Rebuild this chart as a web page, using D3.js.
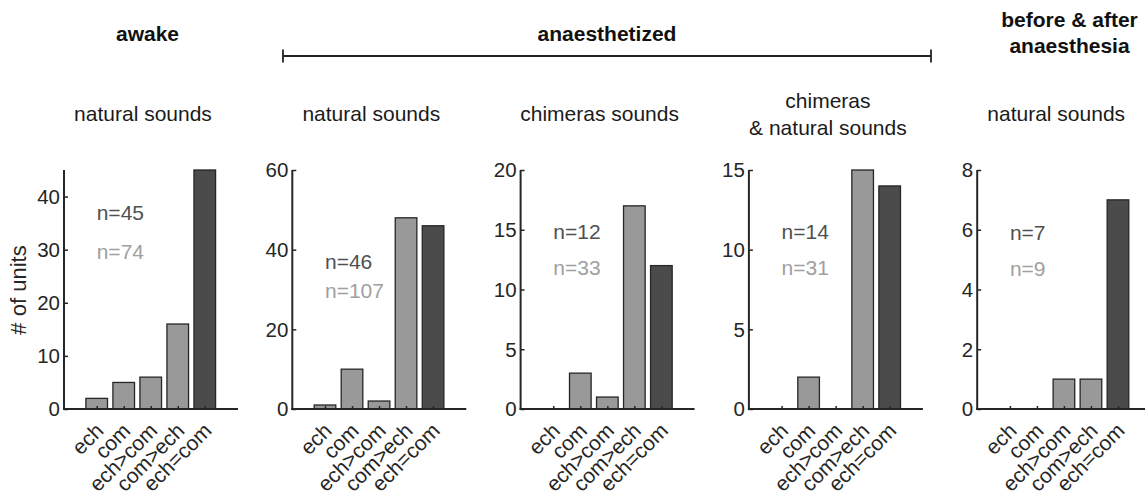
<!DOCTYPE html>
<html>
<head>
<meta charset="utf-8">
<script src="https://cdn.jsdelivr.net/npm/d3@7"></script>
<style>
  body { margin: 0; background: #fff; }
  svg { display: block; font-family: "Liberation Sans", Arial, sans-serif; }
</style>
</head>
<body>
<div id="chart"></div>
<script>
// categories on the x axis (same for every panel)
const categories = ["ech", "com", "ech>com", "com>ech", "ech=com"];

// # of units per category, one array per panel
const awakeNatural = [2, 5, 6, 16, 45];
const anaesthNatural = [1, 10, 2, 48, 46];
const anaesthChimeras = [0, 3, 1, 17, 12];
const anaesthChimNatural = [0, 2, 0, 15, 14];
const beforeAfterNatural = [0, 0, 1, 1, 7];

// y axis limits and ticks per panel
const yMax = [45, 60, 20, 15, 8];
const yTicks = [[0, 10, 20, 30, 40], [0, 20, 40, 60], [0, 5, 10, 15, 20], [0, 5, 10, 15], [0, 2, 4, 6, 8]];

// panel subtitles and sample sizes
const subtitles = [["natural sounds"], ["natural sounds"], ["chimeras sounds"], ["chimeras", "& natural sounds"], ["natural sounds"]];
const nDark = ["n=45", "n=46", "n=12", "n=14", "n=7"];
const nLight = ["n=74", "n=107", "n=33", "n=31", "n=9"];
// where the n= labels sit, in data units of each panel
const nDarkY = [37, 37, 14.8, 11.1, 5.9];
const nLightY = [29.7, 29.6, 11.8, 8.85, 4.7];

const panels = [awakeNatural, anaesthNatural, anaesthChimeras, anaesthChimNatural, beforeAfterNatural];

// -------------------

const width = 1145, height = 495;
const axisW = 174, plotTop = 170, base = 409;
const panelStep = 228.3, firstLeft = 64;
const ink = "#262626";
const lightFill = "#999999", darkFill = "#4b4b4b";

const svg = d3.select("#chart").append("svg")
  .attr("width", width)
  .attr("height", height);

const y0 = d3.scaleLinear().range([base, plotTop]);

panels.forEach((vals, p) => {
  const left = firstLeft + p * panelStep;
  const x = d3.scaleLinear().domain([-0.21, 6.23]).range([left, left + axisW]);
  const y = y0.copy().domain([0, yMax[p]]);
  const g = svg.append("g");

  // bars
  g.selectAll("rect")
    .data(vals.map((v, i) => ({ v, i })).filter(d => d.v > 0))
    .join("rect")
    .attr("x", d => x(d.i + 1) - x(0.4) + x(0))
    .attr("width", x(0.8) - x(0))
    .attr("y", d => y(d.v))
    .attr("height", d => y(0) - y(d.v))
    .attr("fill", d => d.i === 4 ? darkFill : lightFill)
    .attr("stroke", ink)
    .attr("stroke-width", 1.3);

  // y axis
  const ya = g.append("g").attr("transform", `translate(${left},0)`)
    .call(d3.axisRight(y).tickValues(yTicks[p]).tickSize(4).tickFormat(""));
  ya.select(".domain").remove();
  ya.selectAll("line").attr("stroke", ink).attr("stroke-width", 1.5);
  g.append("line")
    .attr("x1", left).attr("x2", left)
    .attr("y1", y(yMax[p])).attr("y2", base + 1)
    .attr("stroke", ink).attr("stroke-width", 2);
  g.selectAll(".ytl")
    .data(yTicks[p])
    .join("text")
    .attr("class", "ytl")
    .attr("x", left - 4)
    .attr("y", d => y(d))
    .attr("dy", "0.36em")
    .attr("text-anchor", "end")
    .attr("font-size", 20.5)
    .attr("fill", ink)
    .text(d => d);

  // x axis
  const xa = g.append("g").attr("transform", `translate(0,${base})`)
    .call(d3.axisTop(x).tickValues([1, 2, 3, 4, 5]).tickSize(3).tickFormat(""));
  xa.select(".domain").remove();
  xa.selectAll("line").attr("stroke", ink).attr("stroke-width", 1.5);
  g.append("line")
    .attr("x1", left - 1).attr("x2", left + axisW)
    .attr("y1", base).attr("y2", base)
    .attr("stroke", ink).attr("stroke-width", 2);
  g.selectAll(".xtl")
    .data(categories)
    .join("text")
    .attr("class", "xtl")
    .attr("transform", (d, i) => `translate(${x(i + 1) + 8},${base + 23}) rotate(-45)`)
    .attr("text-anchor", "end")
    .attr("font-size", 21)
    .attr("fill", ink)
    .text(d => d);

  // n= labels
  g.append("text")
    .attr("x", x(1)).attr("y", y(nDarkY[p])).attr("dy", "0.35em")
    .attr("font-size", 21).attr("fill", "#505050")
    .text(nDark[p]);
  g.append("text")
    .attr("x", x(1)).attr("y", y(nLightY[p])).attr("dy", "0.35em")
    .attr("font-size", 21).attr("fill", "#a0a0a0")
    .text(nLight[p]);

  // subtitle
  const sub = subtitles[p];
  const subBase = sub.length === 1 ? [121] : [108, 135];
  sub.forEach((s, k) => {
    g.append("text")
      .attr("x", left + 79).attr("y", subBase[k])
      .attr("text-anchor", "middle")
      .attr("font-size", 21)
      .attr("fill", "#1a1a1a")
      .text(s);
  });
});

// y label
svg.append("text")
  .attr("transform", "translate(18,290) rotate(-90)")
  .attr("dy", "0.35em")
  .attr("text-anchor", "middle")
  .attr("font-size", 22)
  .attr("fill", ink)
  .text("# of units");

// group titles
const titleG = svg.append("g")
  .attr("font-size", 21)
  .attr("font-weight", "bold")
  .attr("text-anchor", "middle")
  .attr("fill", "#111");
titleG.append("text").attr("x", 147.5).attr("y", 41).text("awake");
titleG.append("text").attr("x", 607).attr("y", 41).text("anaesthetized");
titleG.append("text").attr("x", 1069.5).attr("y", 27).text("before & after");
titleG.append("text").attr("x", 1069.5).attr("y", 53).text("anaesthesia");

// bracket under "anaesthetized"
const bracket = svg.append("g").attr("stroke", "#222").attr("stroke-width", 1.8);
bracket.append("line").attr("x1", 283).attr("x2", 931).attr("y1", 56).attr("y2", 56);
bracket.append("line").attr("x1", 283).attr("x2", 283).attr("y1", 49.5).attr("y2", 62.5);
bracket.append("line").attr("x1", 931).attr("x2", 931).attr("y1", 49.5).attr("y2", 62.5);
</script>
</body>
</html>
